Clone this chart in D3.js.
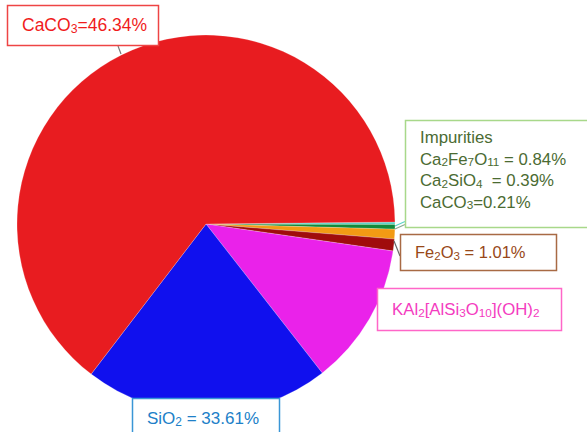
<!DOCTYPE html>
<html><head><meta charset="utf-8">
<script src="https://cdn.jsdelivr.net/npm/d3@7"></script>
<style>html,body{margin:0;padding:0;background:#fff;}svg{display:block;}</style>
</head><body>
<svg id="chart" width="587" height="432"></svg>
<script>
// ---- data (clockwise order, starting just above 3 o'clock) ----
const categories = ["CaCO3 (impurity)", "Ca2SiO4", "Ca2Fe7O11", "Fe2O3", "KAl2[AlSi3O10](OH)2", "SiO2", "CaCO3"];
const sliceValues = [0.21, 0.39, 0.84, 1.01, 12.17, 20.94, 64.44];
const sliceColors = ["#5cd4c8", "#118a3a", "#f29a14", "#a00c0c", "#ea22ea", "#1010ee", "#e81c20"];
// label texts ({x} = subscript)
const labelCaCO3 = ["CaCO{3}=46.34%"];
const labelImpurities = ["Impurities", "Ca{2}Fe{7}O{11} = 0.84%", "Ca{2}SiO{4}  = 0.39%", "CaCO{3}=0.21%"];
const labelFe2O3 = ["Fe{2}O{3} = 1.01%"];
const labelKAl = ["KAl{2}[AlSi{3}O{10}](OH){2}"];
const labelSiO2 = ["SiO{2} = 33.61%"];

const svg = d3.select("#chart");
const cx = 206, cy = 224, R = 189;
const deg = Math.PI / 180;

const pie = d3.pie().sort(null).value(d => d)
  .startAngle(89.4 * deg).endAngle(449.4 * deg);
const arc = d3.arc().innerRadius(0).outerRadius(R);

const g = svg.append("g").attr("transform", `translate(${cx},${cy})`);
g.selectAll("path").data(pie(sliceValues)).join("path")
  .attr("d", arc)
  .attr("fill", (d, i) => sliceColors[i])
  .attr("stroke", "#ffffff").attr("stroke-opacity", 0.35).attr("stroke-width", 0.6);

// leader lines
const leaders = [
  {x1: 118, y1: 46, x2: 121, y2: 54, c: "#777"},
  {x1: 395, y1: 226, x2: 405, y2: 221.5, c: "#5cd4c8"},
  {x1: 395, y1: 229, x2: 405, y2: 224.5, c: "#8aa890"},
  {x1: 394, y1: 241, x2: 400, y2: 256, c: "#666"}
];
svg.selectAll("line.leader").data(leaders).join("line").attr("class", "leader")
  .attr("x1", d => d.x1).attr("y1", d => d.y1).attr("x2", d => d.x2).attr("y2", d => d.y2)
  .attr("stroke", d => d.c).attr("stroke-width", 1.2);

function richText(sel, str, size) {
  const parts = str.split(/(\{[^}]*\})/).filter(s => s.length);
  let sub = false;
  parts.forEach(p => {
    if (p.startsWith("{")) {
      const t = sel.append("tspan").attr("font-size", size * 0.7).text(p.slice(1, -1));
      if (!sub) t.attr("dy", 1.8);
      sub = true;
    } else {
      const t = sel.append("tspan").text(p);
      if (sub) { t.attr("dy", -1.8); sub = false; }
    }
  });
}

function box(x, y, w, h, stroke, fill, lines, tx, ty, size, lh) {
  svg.append("rect").attr("x", x).attr("y", y).attr("width", w).attr("height", h)
    .attr("fill", "#fff").attr("stroke", stroke).attr("stroke-width", 1.5);
  lines.forEach((s, i) => {
    const t = svg.append("text").attr("x", tx).attr("y", ty + i * lh)
      .attr("font-family", "Liberation Sans, Arial, sans-serif")
      .attr("font-size", size).attr("fill", fill).attr("xml:space", "preserve");
    richText(t, s, size);
  });
}

box(7.5, 5.5, 151, 40, "#ee4444", "#f01c1c", labelCaCO3, 22, 31, 17.5, 0);
box(405.5, 120.5, 190, 107, "#a8d88a", "#4b6b32", labelImpurities, 420, 143, 16.8, 21.5);
box(400.5, 234.5, 156, 36, "#a86a44", "#984818", labelFe2O3, 415, 258, 16.5, 0);
box(377.5, 288.5, 184, 42, "#ff66c8", "#f43cc0", labelKAl, 392, 315, 16.8, 0);
box(132.5, 398.5, 147, 40, "#3a96d6", "#2080c8", labelSiO2, 147, 424, 17, 0);
</script>
</body></html>
